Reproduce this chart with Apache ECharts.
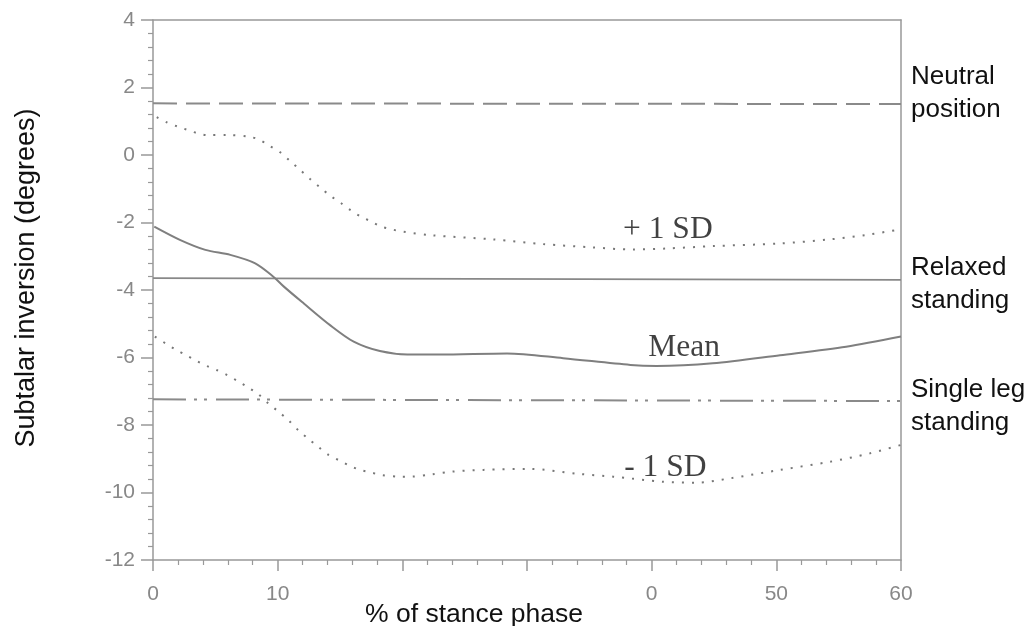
<!DOCTYPE html>
<html>
<head>
<meta charset="utf-8">
<script src="https://cdn.jsdelivr.net/npm/echarts@6/dist/echarts.min.js"></script>
<style>
  html, body { margin: 0; padding: 0; background: #fff; }
  #main { width: 1034px; height: 626px; }
</style>
</head>
<body>
<div id="main"></div>
<script>
(function () {
  var myChart = echarts.init(document.getElementById('main'));

  // % of stance phase tick labels, as printed
  var xTickLabels = ['0', '10', '', '', '0', '50', '60'];

  // curves: [stance %, degrees]
  var meanCurve = [
    [0.1, -2.12], [2.2, -2.52], [4.2, -2.81], [6.2, -2.96], [8.2, -3.21],
    [9.7, -3.62], [10.5, -3.90], [12.1, -4.40], [14.2, -5.04], [16.1, -5.53],
    [18.2, -5.81], [20.4, -5.91], [23.0, -5.91], [28.4, -5.88], [32.9, -6.02],
    [38.3, -6.22], [40.4, -6.25], [44.9, -6.17], [50.3, -5.93], [55.6, -5.68],
    [60, -5.38]
  ];
  var plusSD = [
    [0.3, 1.12], [1.1, 0.97], [2.0, 0.84], [2.8, 0.74], [3.6, 0.64], [4.4, 0.59],
    [6.0, 0.59], [7.7, 0.54], [8.5, 0.46], [9.3, 0.28], [10.2, 0.08], [11.0, -0.18],
    [11.8, -0.44], [12.6, -0.71], [13.4, -0.96], [14.2, -1.2], [15.1, -1.43],
    [15.9, -1.65], [16.7, -1.83], [17.5, -1.97], [18.3, -2.12], [19.1, -2.2],
    [20.0, -2.27], [22.4, -2.38], [27.3, -2.5], [31.3, -2.64], [35.3, -2.74],
    [38.5, -2.8], [41.2, -2.77], [44.9, -2.7], [50.3, -2.62], [54.3, -2.5],
    [57.2, -2.37], [60, -2.2]
  ];
  var minusSD = [
    [0.15, -5.38], [1.0, -5.58], [1.8, -5.76], [2.65, -5.93], [3.45, -6.09],
    [4.3, -6.25], [5.1, -6.37], [5.95, -6.52], [6.8, -6.7], [7.6, -6.88],
    [8.45, -7.09], [9.25, -7.36], [10.05, -7.6], [10.9, -7.87], [11.7, -8.17],
    [12.5, -8.42], [13.3, -8.66], [14.1, -8.89], [15.0, -9.06], [15.8, -9.21],
    [16.6, -9.33], [17.5, -9.41], [18.3, -9.48], [19.9, -9.53], [20.7, -9.53],
    [22.4, -9.46], [24.0, -9.38], [26.5, -9.33], [30.2, -9.30], [34.2, -9.45],
    [36.9, -9.53], [40.9, -9.68], [43.6, -9.71], [46.3, -9.58], [50.3, -9.33],
    [54.3, -9.09], [57.5, -8.84], [60, -8.59]
  ];

  // reference positions (value at 0 % and at 60 %)
  var neutralLine = [1.53, 1.51];
  var relaxedLine = [-3.65, -3.70];
  var singleLegLine = [-7.24, -7.29];

  // curve names printed inside the plot
  var curveNotes = [
    { name: '+ 1 SD', value: [41.3, -2.22] },
    { name: 'Mean', value: [42.6, -5.72] },
    { name: '- 1 SD', value: [41.1, -9.27] }
  ];

  var grey = '#8a8a8a';
  var sans = 'Liberation Sans, Arial, sans-serif';

  function refLine(name, ends, style, label, dy) {
    return {
      name: name,
      type: 'line',
      data: [[0, ends[0]], [60, ends[1]]],
      symbol: 'none',
      silent: true,
      lineStyle: style,
      endLabel: {
        show: true,
        formatter: label,
        distance: 10,
        offset: [0, dy],
        color: '#111',
        fontFamily: sans,
        fontSize: 26,
        lineHeight: 33,
        align: 'left'
      }
    };
  }

  option = {
    animation: false,
    title: {
      text: '% of stance phase',
      left: 360,
      top: 596,
      textStyle: { fontFamily: sans, fontSize: 26.5, fontWeight: 'normal', color: '#111' }
    },
    grid: { left: 153, right: 133, top: 20, bottom: 66 },
    xAxis: [
      {
        type: 'value',
        min: 0, max: 60, interval: 10,
        axisLine: { onZero: false, lineStyle: { color: '#999', width: 1.5 } },
        axisTick: { length: 11, lineStyle: { color: '#999', width: 1.5 } },
        minorTick: { show: true, splitNumber: 5, length: 5, lineStyle: { color: '#999', width: 1.2 } },
        axisLabel: {
          margin: 24,
          fontFamily: sans, fontSize: 21, color: '#888',
          formatter: function (v) { return xTickLabels[Math.round(v / 10)]; }
        },
        splitLine: { show: false }
      },
      {
        type: 'value', position: 'top', min: 0, max: 60,
        axisLine: { show: true, onZero: false, lineStyle: { color: '#999', width: 1.5 } },
        axisTick: { show: false }, axisLabel: { show: false }, splitLine: { show: false }
      }
    ],
    yAxis: [
      {
        type: 'value',
        min: -12, max: 4, interval: 2,
        name: 'Subtalar inversion (degrees)',
        nameLocation: 'middle',
        nameRotate: 90,
        nameGap: 113,
        nameTextStyle: { fontFamily: sans, fontSize: 27, color: '#111', padding: [0, 0, 0, 24] },
        axisLine: { show: true, onZero: false, lineStyle: { color: '#999', width: 1.5 } },
        axisTick: { length: 12, lineStyle: { color: '#999', width: 1.5 } },
        minorTick: { show: true, splitNumber: 5, length: 5, lineStyle: { color: '#999', width: 1.2 } },
        axisLabel: { margin: 18, fontFamily: sans, fontSize: 21, color: '#888' },
        splitLine: { show: false }
      },
      {
        type: 'value', position: 'right', min: -12, max: 4,
        axisLine: { show: true, onZero: false, lineStyle: { color: '#999', width: 1.5 } },
        axisTick: { show: false }, axisLabel: { show: false }, splitLine: { show: false }
      }
    ],
    series: [
      refLine('Neutral position', neutralLine,
        { color: grey, width: 2, type: [24, 9] }, 'Neutral\nposition', -11),
      refLine('Relaxed standing', relaxedLine,
        { color: '#888', width: 1.8, type: 'solid' }, 'Relaxed\nstanding', 4),
      refLine('Single leg standing', singleLegLine,
        { color: grey, width: 2, type: [33, 8, 3, 7, 3, 9] }, 'Single leg\nstanding', 5),
      {
        name: 'Mean', type: 'line', data: meanCurve, smooth: 0.3, symbol: 'none',
        lineStyle: { color: '#7f7f7f', width: 2 }
      },
      {
        name: '+1 SD', type: 'line', data: plusSD, smooth: 0.3, symbol: 'none',
        lineStyle: { color: '#777', width: 2, type: [2, 8] }
      },
      {
        name: '-1 SD', type: 'line', data: minusSD, smooth: 0.3, symbol: 'none',
        lineStyle: { color: '#777', width: 2, type: [2, 8] }
      },
      {
        name: 'notes', type: 'scatter', data: curveNotes, symbolSize: 1,
        itemStyle: { color: 'rgba(0,0,0,0)' }, silent: true,
        label: {
          show: true, position: 'inside',
          formatter: function (p) { return p.name; },
          fontFamily: 'Liberation Serif, Times New Roman, serif',
          fontSize: 31.5, color: '#111'
        }
      }
    ]
  };

  myChart.setOption(option);
})();
</script>
</body>
</html>
